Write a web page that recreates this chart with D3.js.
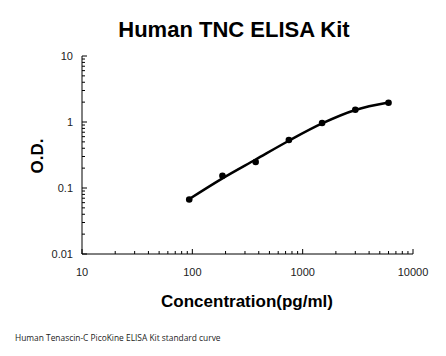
<!DOCTYPE html>
<html><head><meta charset="utf-8">
<script src="https://cdn.jsdelivr.net/npm/d3@7"></script>
<style>body{margin:0;background:#fff}svg{display:block}</style>
</head><body>
<svg id="c" width="446" height="356"></svg>
<script>
const concentrations = [93.75, 187.5, 375, 750, 1500, 3000, 6000];
const odValues = [0.067, 0.153, 0.248, 0.533, 0.966, 1.53, 1.96];
const fitValues = [0.068, 0.14, 0.27, 0.52, 0.95, 1.52, 1.97];
const xTicks = [10, 100, 1000, 10000];
const yTicks = [0.01, 0.1, 1, 10];
const yTickLabels = ["0.01", "0.1", "1", "10"];

const svg = d3.select("#c");
const L = 82, R = 413, T = 56, B = 254;
const x = d3.scaleLog().domain([10, 10000]).range([L, R]);
const y = d3.scaleLog().domain([0.01, 10]).range([B, T]);

function minors(lo, hi) {
  const out = [];
  for (let d = lo; d < hi; d *= 10) for (let k = 2; k <= 9; k++) out.push(d * k);
  return out;
}
const font = "'Liberation Sans', Arial, sans-serif";

svg.append("line").attr("x1", L).attr("x2", L).attr("y1", T).attr("y2", B).attr("stroke", "#000").attr("stroke-width", 1);
svg.append("line").attr("x1", L).attr("x2", R).attr("y1", B).attr("y2", B).attr("stroke", "#000").attr("stroke-width", 1);

svg.selectAll(".ymaj").data(yTicks).enter().append("line")
  .attr("x1", L).attr("x2", L + 5).attr("y1", d => y(d)).attr("y2", d => y(d)).attr("stroke", "#000");
svg.selectAll(".ymin").data(minors(0.01, 10)).enter().append("line")
  .attr("x1", L).attr("x2", L + 3).attr("y1", d => y(d)).attr("y2", d => y(d)).attr("stroke", "#000");
svg.selectAll(".ylab").data(yTicks).enter().append("text")
  .attr("x", L - 9).attr("y", d => y(d) + 4).attr("text-anchor", "end")
  .attr("font-family", font).attr("font-size", 11).attr("fill", "#222")
  .text((d, i) => yTickLabels[i]);

svg.selectAll(".xmaj").data(xTicks).enter().append("line")
  .attr("x1", d => x(d)).attr("x2", d => x(d)).attr("y1", B).attr("y2", B - 5).attr("stroke", "#000");
svg.selectAll(".xmin").data(minors(10, 10000)).enter().append("line")
  .attr("x1", d => x(d)).attr("x2", d => x(d)).attr("y1", B).attr("y2", B - 3).attr("stroke", "#000");
svg.selectAll(".xlab").data(xTicks).enter().append("text")
  .attr("x", d => x(d)).attr("y", B + 22).attr("text-anchor", "middle")
  .attr("font-family", font).attr("font-size", 11).attr("fill", "#222")
  .text(d => d3.format("d")(d));

const line = d3.line().x((d, i) => x(concentrations[i])).y(d => y(d)).curve(d3.curveMonotoneX);
svg.append("path").datum(fitValues).attr("d", line).attr("fill", "none")
  .attr("stroke", "#000").attr("stroke-width", 2.5);

svg.selectAll(".pt").data(odValues).enter().append("circle")
  .attr("cx", (d, i) => x(concentrations[i])).attr("cy", d => y(d)).attr("r", 3.3).attr("fill", "#000");

svg.append("text").attr("x", 234).attr("y", 37).attr("text-anchor", "middle")
  .attr("font-family", font).attr("font-weight", "bold").attr("font-size", 22).text("Human TNC ELISA Kit");
svg.append("text").attr("x", 247).attr("y", 307).attr("text-anchor", "middle")
  .attr("font-family", font).attr("font-weight", "bold").attr("font-size", 17).text("Concentration(pg/ml)");
svg.append("text").attr("transform", "translate(43,156) rotate(-90)").attr("text-anchor", "middle")
  .attr("font-family", font).attr("font-weight", "bold").attr("font-size", 17).text("O.D.");
svg.append("text").attr("x", 15).attr("y", 341)
  .attr("font-family", "'Open Sans', sans-serif").attr("font-size", 8.4).attr("fill", "#222")
  .text("Human Tenascin-C PicoKine ELISA Kit standard curve");
</script>
</body></html>
